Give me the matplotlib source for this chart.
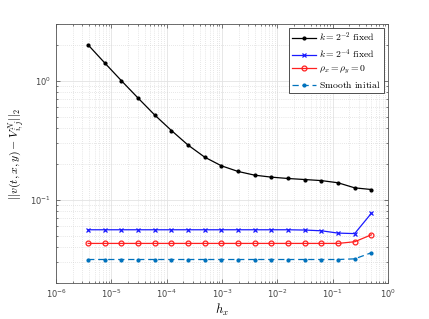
import matplotlib

matplotlib.use("Agg")
import matplotlib.pyplot as plt
import numpy as np
from matplotlib.ticker import LogLocator, NullFormatter

plt.rcParams["mathtext.fontset"] = "cm"

# grid spacings h_x = 2^-18 ... 2^-1
exponents = list(range(-18, 0))
h_x = [2.0 ** e for e in exponents]

err_k2 = [2.0, 1.41, 1.0, 0.715, 0.515, 0.382, 0.288, 0.228, 0.193, 0.173,
          0.161, 0.155, 0.151, 0.148, 0.145, 0.139, 0.126, 0.122]
err_k4 = [0.056] * 13 + [0.0557, 0.0549, 0.0525, 0.052, 0.077]
err_rho0 = [0.043] * 16 + [0.0444, 0.0508]
err_smooth = [0.0315] * 16 + [0.0319, 0.0359]

labels = [
    r"$k = 2^{-2}\ \mathrm{fixed}$",
    r"$k = 2^{-4}\ \mathrm{fixed}$",
    r"$\rho_x = \rho_y = 0$",
    r"$\mathrm{Smooth\ initial}$",
]

fig = plt.figure(figsize=(4.29, 3.19), dpi=100, facecolor="white")
ax = fig.add_axes([0.1305, 0.1129, 0.7739, 0.8119])

ax.loglog(h_x, err_k2, "k.-", lw=0.9, ms=4, label=labels[0])
ax.loglog(h_x, err_k4, "x-", color="#1a1aff", lw=0.9, ms=3, mew=0.9, label=labels[1])
ax.loglog(h_x, err_rho0, "o-", color="#ff2020", mfc="none", lw=0.9, ms=3.5, mew=0.9, label=labels[2])
ax.loglog(h_x, err_smooth, ".--", color="#0072BD", lw=0.9, ms=4, dashes=(5, 3), label=labels[3])

ax.set_xlim(1e-6, 1.0)
ax.set_ylim(0.02, 3.0)

ax.xaxis.set_major_locator(LogLocator(base=10, numticks=10))
ax.xaxis.set_minor_locator(LogLocator(base=10, subs=np.arange(2, 10), numticks=20))
ax.yaxis.set_major_locator(LogLocator(base=10, numticks=10))
ax.yaxis.set_minor_locator(LogLocator(base=10, subs=np.arange(2, 10), numticks=20))
ax.xaxis.set_minor_formatter(NullFormatter())
ax.yaxis.set_minor_formatter(NullFormatter())

ax.grid(True, which="major", color="#e3e3e3", lw=0.6, ls="-")
ax.grid(True, which="minor", color="#d0d0d0", lw=0.5, ls=(0, (1, 2)))
ax.set_axisbelow(True)

for side in ax.spines.values():
    side.set_color("#555555")
    side.set_linewidth(0.6)
ax.tick_params(which="both", direction="in", top=True, right=True,
               colors="#444444", labelsize=6, width=0.5)
ax.tick_params(which="major", length=3)
ax.tick_params(which="minor", length=1.6)

ax.set_xlabel(r"$h_x$", fontsize=9, labelpad=1)
ax.set_ylabel(r"$||v(t,x,y) - V_{i,j}^N||_2$", fontsize=8.5, labelpad=3)

leg = ax.legend(loc="upper right", fontsize=7, frameon=True, fancybox=False,
                edgecolor="#333333", framealpha=1, borderpad=0.3,
                handlelength=2.4, handletextpad=0.4, labelspacing=0.3,
                borderaxespad=0.4)
leg.get_frame().set_linewidth(0.6)

fig.savefig("out.png", dpi=100, facecolor="white")
